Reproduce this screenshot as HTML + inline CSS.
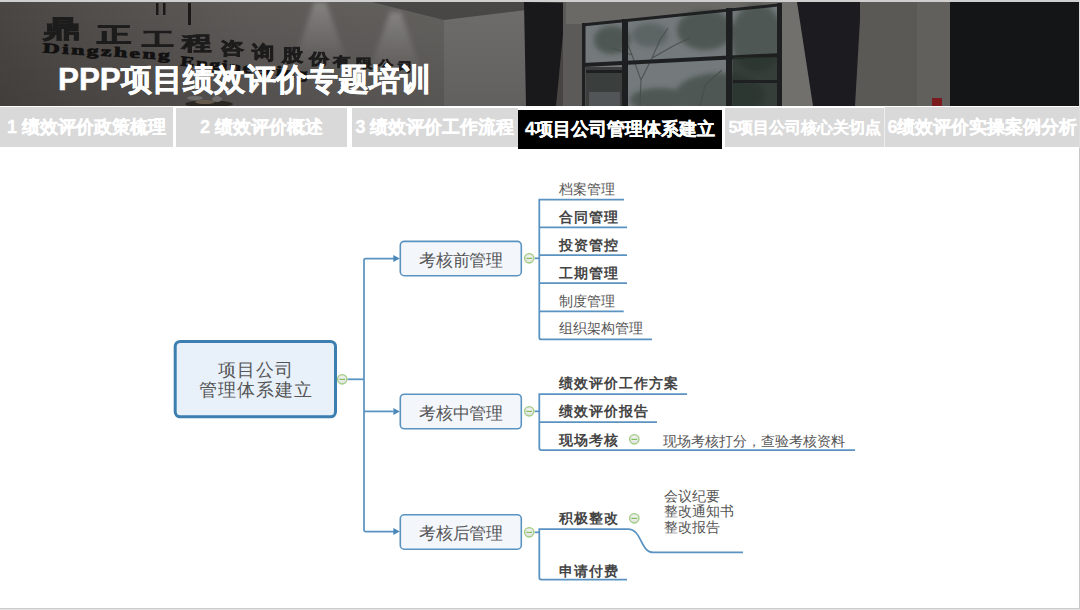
<!DOCTYPE html>
<html><head><meta charset="utf-8">
<style>
html,body{margin:0;padding:0;background:#fff;}
body{width:1080px;height:610px;position:relative;overflow:hidden;font-family:"Liberation Sans",sans-serif;}
.abs{position:absolute;}
#topline{left:0;top:0;width:1080px;height:2px;background:#cfcfcf;}
#hdr{left:0;top:2px;width:1079px;height:104px;overflow:hidden;background:#484442;}
#title{left:58px;top:58px;font-size:31.4px;-webkit-text-stroke:0.5px #fff;font-weight:bold;color:#fff;white-space:nowrap;line-height:44px;}
.tab{position:absolute;background:#d9d9d9;color:#fff;font-weight:bold;-webkit-text-stroke:0.3px #fff;white-space:nowrap;text-align:center;}
.mm{position:absolute;font-family:"Liberation Serif",serif;white-space:nowrap;color:#555;font-size:13.5px;line-height:16px;letter-spacing:0.1px;}
.bx{font-size:16.5px !important;letter-spacing:-0.2px !important;line-height:20px !important;}
.b{font-weight:bold;color:#444;letter-spacing:1.0px;}
#rshadow{left:1079px;top:148px;width:1px;height:462px;background:#c9c9c9;}
#rtop{left:1079px;top:0;width:1px;height:148px;background:#dedede;}
#bshadow{left:0;top:608px;width:1080px;height:1px;background:#cbcbcb;}
#bshadow2{left:0;top:609px;width:1080px;height:1px;background:#e2e2e2;}
</style></head>
<body>
<div class="abs" id="topline"></div>
<div class="abs" id="hdr"></div>
<svg class="abs" style="left:0;top:2px" width="1079" height="104" viewBox="0 2 1079 104">
<defs>
<linearGradient id="wallL" x1="0" y1="0" x2="1" y2="0">
<stop offset="0" stop-color="#4a4643"/><stop offset="0.2" stop-color="#524e4b"/><stop offset="0.55" stop-color="#5d5a58"/><stop offset="1" stop-color="#63615e"/>
</linearGradient>
<linearGradient id="vshade" x1="0" y1="0" x2="0" y2="1"><stop offset="0" stop-color="#000" stop-opacity="0"/><stop offset="1" stop-color="#000" stop-opacity="0.12"/></linearGradient>
<linearGradient id="coneL" x1="0" y1="0" x2="0" y2="1"><stop offset="0" stop-color="#92908e" stop-opacity="0.75"/><stop offset="0.55" stop-color="#82807e" stop-opacity="0.5"/><stop offset="1" stop-color="#7e7c7a" stop-opacity="0"/></linearGradient>
<radialGradient id="cone" cx="0.5" cy="0.05" r="0.95"><stop offset="0" stop-color="#9a9896" stop-opacity="0.75"/><stop offset="0.6" stop-color="#8a8886" stop-opacity="0.3"/><stop offset="1" stop-color="#8a8886" stop-opacity="0"/></radialGradient>
<linearGradient id="glass" x1="0" y1="0" x2="0" y2="1"><stop offset="0" stop-color="#646a69"/><stop offset="1" stop-color="#4e5651"/></linearGradient>
<filter id="bl" x="-20%" y="-20%" width="140%" height="140%"><feGaussianBlur stdDeviation="2.5"/></filter>
<filter id="bl1"><feGaussianBlur stdDeviation="0.6"/></filter>
</defs>
<rect x="0" y="2" width="444" height="104" fill="url(#wallL)"/>
<g filter="url(#bl)">
<path d="M314 2 L326 2 L350 70 L292 70 Z" fill="url(#coneL)"/>
<path d="M390 12 L401 12 L424 80 L366 80 Z" fill="url(#coneL)"/>
</g>
<polygon points="372,2 444,2 444,20" fill="#4a4846"/>
<rect x="444" y="2" width="82" height="104" fill="#6f6d6b"/>
<polygon points="444,2 526,2 526,10 444,20" fill="#4a4846"/>
<rect x="0" y="2" width="526" height="104" fill="url(#vshade)"/>
<polygon points="524,2 566,3 556,106 526,106" fill="#19191c"/>
<rect x="563" y="2" width="20" height="104" fill="#5c5a58"/>
<polygon points="566,2 790,2 781,4 583,24 566,24" fill="#6b6966"/>
<polygon points="583,24 781,4 781,106 583,106" fill="#74797b"/>
<g filter="url(#bl)">
<g fill="#3b473f" opacity="0.65">
<ellipse cx="757" cy="38" rx="26" ry="34"/><ellipse cx="705" cy="30" rx="28" ry="20"/><ellipse cx="720" cy="95" rx="45" ry="22"/><ellipse cx="660" cy="100" rx="30" ry="12"/><ellipse cx="612" cy="40" rx="18" ry="14"/><ellipse cx="650" cy="35" rx="18" ry="12" opacity="0.6"/>
</g>
</g>
<g stroke="#454d4a" stroke-width="1.1" fill="none" opacity="0.85">
<path d="M640 106 L641 80 L632 55 L625 38 M641 80 L652 58 L660 40 M652 58 L675 45 L690 38 M632 55 L612 48 M660 40 L668 28 M700 106 L705 85 L722 70"/>
</g>
<g fill="#1e1f20">
<polygon points="582,23.5 783,3 783,6 582,26.5"/>
<rect x="582" y="23" width="3.5" height="83"/>
<rect x="622" y="19" width="6" height="87"/>
<rect x="726" y="8" width="6.5" height="98"/>
<polygon points="583,63 781,53 781,57 583,67"/>
<rect x="777" y="3" width="5" height="103"/>
</g>
<rect x="586" y="67" width="36" height="39" fill="#2c3130" opacity="0.8"/>
<rect x="589" y="92" width="31" height="14" fill="#5b6063" opacity="0.7"/>
<rect x="586" y="70" width="36" height="3" fill="#1e1f20"/>
<rect x="733" y="57" width="44" height="49" fill="#263029" opacity="0.8"/>
<rect x="733" y="80" width="44" height="3" fill="#1e1f20"/>
<rect x="782" y="2" width="32" height="104" fill="#72706d"/>
<rect x="845" y="2" width="20" height="104" fill="#5b5956"/>
<polygon points="797,2 861,2 855,106 813,106" fill="#1c1c20"/>
<rect x="860" y="2" width="91" height="104" fill="#5b5956"/>
<rect x="917" y="2" width="34" height="104" fill="#62605d"/>
<rect x="932" y="98" width="10" height="8" fill="#7a1c1e"/>
<rect x="950" y="2" width="129" height="104" fill="#141516"/>
<g filter="url(#bl1)"><ellipse cx="209" cy="104" rx="24" ry="3.5" fill="#2a2624"/><ellipse cx="205" cy="102" rx="10" ry="2" fill="#8a7a60" opacity="0.6"/><ellipse cx="195" cy="98" rx="8" ry="2" fill="#6e6c6a"/><ellipse cx="217" cy="99" rx="5" ry="3" fill="#6e6c6a"/></g>
<g fill="#1a1918">
<rect x="156" y="3" width="2.5" height="12"/><rect x="163" y="3" width="2.5" height="12"/><rect x="188" y="3" width="3" height="22"/>
</g>
<g font-family="Liberation Sans,sans-serif" font-weight="bold" fill="#1b1a1a" stroke="#1b1a1a" stroke-width="1.2" filter="url(#bl1)">
<text transform="translate(43.3,37.3) scale(1.267,0.810)" font-size="30">鼎</text>
<text transform="translate(96.7,41.7) scale(1.150,0.707)" font-size="30">正</text>
<text transform="translate(142.1,46.0) scale(1.050,0.621)" font-size="30">工</text>
<text transform="translate(182.0,50.4) scale(0.967,0.655)" font-size="30">程</text>
<text transform="translate(219.8,54.2) scale(0.800,0.569)" font-size="30">咨</text>
<text transform="translate(251.7,58.5) scale(0.733,0.621)" font-size="30">询</text>
<text transform="translate(281.7,60.7) scale(0.700,0.569)" font-size="30">股</text>
<text transform="translate(308.7,63.5) scale(0.667,0.500)" font-size="30">份</text>
<text transform="translate(332.6,66.2) scale(0.600,0.448)" font-size="30">有</text>
<text transform="translate(355.6,68.2) scale(0.567,0.448)" font-size="30">限</text>
<text transform="translate(377.5,69.3) scale(0.533,0.414)" font-size="30">公</text>
<text transform="translate(397.5,71.3) scale(0.500,0.414)" font-size="30">司</text>
</g>
<text transform="translate(42.5,52.5) rotate(3.3) scale(1.7,1)" font-family="Liberation Serif,serif" font-weight="bold" font-size="14" letter-spacing="1.4" fill="#121111" stroke="#121111" stroke-width="0.7">Dingzheng</text>
<text transform="translate(180,65.5) rotate(6) scale(1.5,1)" font-family="Liberation Serif,serif" font-weight="bold" font-size="14" letter-spacing="1.2" fill="#121111" stroke="#121111" stroke-width="0.7">Engineering</text>
</svg>
<div class="abs" id="title">PPP项目绩效评价专题培训</div>

<div class="tab" style="left:0;top:107px;width:173px;height:40px;font-size:18px;line-height:40px;">1 绩效评价政策梳理</div>
<div class="tab" style="left:176px;top:108px;width:171px;height:39px;font-size:18px;line-height:39px;">2 绩效评价概述</div>
<div class="tab" style="left:352px;top:108px;width:166px;height:39px;font-size:18px;line-height:39px;">3 绩效评价工作流程</div>
<div class="tab" style="left:518px;top:110px;width:204px;height:39px;font-size:18px;line-height:39px;background:#000;">4项目公司管理体系建立</div>
<div class="tab" style="left:725px;top:108px;width:160px;height:39px;font-size:16px;line-height:39px;">5项目公司核心关切点</div>
<div class="tab" style="left:884px;top:107px;width:195px;height:40px;font-size:18px;line-height:40px;border-left:1px solid #eee;">6绩效评价实操案例分析</div>

<svg class="abs" style="left:0;top:0" width="1080" height="610">
<defs><radialGradient id="cg" cx="50%" cy="40%" r="60%"><stop offset="0" stop-color="#f6f6f6"/><stop offset="1" stop-color="#dcdcdc"/></radialGradient></defs>
<g fill="none" stroke="#5a93c1" stroke-width="1.75">
<path d="M347.5 379.3H364"/>
<path d="M394 258.6H365.5Q364 258.6 364 260.1V530.1Q364 531.6 365.5 531.6H394"/>
<path d="M364 411.4H393"/>
<path d="M534.7 258.3H539.3"/>
<path d="M624 199.5H539.3V337.4Q539.3 339.4 541.3 339.4H652"/>
<path d="M539.3 227.4H627M539.3 255.2H627M539.3 283.1H627M539.3 311.3H623.7"/>
<path d="M534.7 411.3H539.3"/>
<path d="M687 394.2H539.3V448Q539.3 450 541.3 450H855"/>
<path d="M539.3 422H657"/>
<path d="M534.7 532.3H539.3"/>
<path d="M628 529H539.3V577.6Q539.3 579.6 541.3 579.6H627"/>
<path d="M628 529C642 529 640 552.4 653.5 552.4H743"/>
</g>
<g fill="#4a88b9">
<path d="M393.3 255.1L399.8 258.6L393.3 262.1Z"/>
<path d="M393.3 407.9L399.8 411.4L393.3 414.9Z"/>
<path d="M393.3 528.1L399.8 531.6L393.3 535.1Z"/>
</g>
<rect x="175.2" y="341.4" width="160.3" height="75.4" rx="5" fill="#e8f0fa" stroke="#3d7eb0" stroke-width="3"/>
<g fill="#f3f7fc" stroke="#5a93c0" stroke-width="1.6">
<rect x="400.3" y="241.4" width="121" height="34.3" rx="4"/>
<rect x="400.3" y="394.2" width="121" height="34.6" rx="4"/>
<rect x="400.3" y="514.8" width="121" height="34.4" rx="4"/>
</g>
<g fill="url(#cg)" stroke="#9fce7e" stroke-width="1.3">
<circle cx="342.2" cy="379.3" r="4.7"/>
<circle cx="529.2" cy="258.3" r="4.7"/>
<circle cx="529.2" cy="411.3" r="4.7"/>
<circle cx="529.2" cy="532.3" r="4.7"/>
<circle cx="634.3" cy="439.3" r="4.7"/>
<circle cx="634.3" cy="518.3" r="4.7"/>
</g>
<g stroke="#84c05c" stroke-width="1.3">
<path d="M339.4 379.3H345M526.4 258.3H532M526.4 411.3H532M526.4 532.3H532M631.5 439.3H637.1M631.5 518.3H637.1"/>
</g>
</svg>
<div class="mm" style="left:175px;top:360px;width:161px;text-align:center;font-size:18px;line-height:20px;letter-spacing:1px;">项目公司<br>管理体系建立</div>
<div class="mm bx" style="left:400px;top:250.5px;width:122px;text-align:center;">考核前管理</div>
<div class="mm bx" style="left:400px;top:403.5px;width:122px;text-align:center;">考核中管理</div>
<div class="mm bx" style="left:400px;top:523.5px;width:122px;text-align:center;">考核后管理</div>
<div class="mm" style="left:559px;top:181.5px;">档案管理</div>
<div class="mm b" style="left:559px;top:209.5px;">合同管理</div>
<div class="mm b" style="left:559px;top:237.5px;">投资管控</div>
<div class="mm b" style="left:559px;top:265.5px;">工期管理</div>
<div class="mm" style="left:559px;top:294px;">制度管理</div>
<div class="mm" style="left:559px;top:321px;">组织架构管理</div>
<div class="mm b" style="left:559px;top:375.5px;">绩效评价工作方案</div>
<div class="mm b" style="left:559px;top:403.5px;">绩效评价报告</div>
<div class="mm b" style="left:559px;top:433px;">现场考核</div>
<div class="mm" style="left:663px;top:433.5px;letter-spacing:0;">现场考核打分，查验考核资料</div>
<div class="mm b" style="left:559px;top:511px;">积极整改</div>
<div class="mm" style="left:664px;top:488.5px;line-height:15.5px;">会议纪要<br>整改通知书<br>整改报告</div>
<div class="mm b" style="left:559px;top:564px;">申请付费</div>

<div class="abs" id="rshadow"></div>
<div class="abs" id="bshadow"></div>
<div class="abs" id="bshadow2"></div>
<div class="abs" id="rtop"></div>
</body></html>
